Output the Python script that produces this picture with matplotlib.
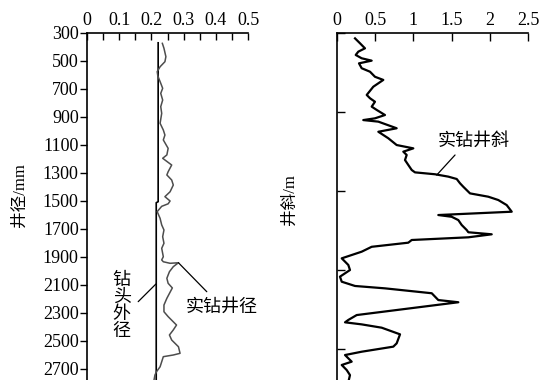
import matplotlib.pyplot as plt

plt.rcParams['font.family'] = ['Liberation Serif', 'Noto Sans CJK SC']

# left panel: hole diameter vs depth
caliper_depth = [374, 409, 469, 505, 541, 576, 607, 659, 695, 731, 779, 826, 874, 945,
                 993, 1029, 1064, 1124, 1171, 1195, 1243, 1291, 1314, 1350, 1386, 1434,
                 1469, 1500, 1520, 1538, 1576, 1624, 1671, 1707, 1755, 1802, 1838, 1898,
                 1921, 1934, 1945, 1941, 1969, 2005, 2052, 2088, 2121, 2195, 2243, 2291,
                 2326, 2386, 2421, 2457, 2493, 2541, 2588, 2600, 2612, 2648, 2684, 2719,
                 2743, 2780]
caliper_value = [0.234, 0.239, 0.245, 0.242, 0.227, 0.218, 0.220, 0.229, 0.235, 0.229,
                 0.235, 0.229, 0.232, 0.227, 0.237, 0.242, 0.237, 0.252, 0.248, 0.235,
                 0.263, 0.252, 0.248, 0.263, 0.268, 0.258, 0.242, 0.258, 0.252, 0.232,
                 0.218, 0.227, 0.232, 0.239, 0.235, 0.239, 0.232, 0.237, 0.232, 0.237,
                 0.258, 0.284, 0.268, 0.256, 0.248, 0.252, 0.265, 0.248, 0.239, 0.239,
                 0.252, 0.278, 0.268, 0.256, 0.263, 0.284, 0.289, 0.268, 0.237, 0.232,
                 0.227, 0.216, 0.211, 0.208]
bit_depth = [370, 1505, 1512, 2790]
bit_value = [0.221, 0.221, 0.215, 0.215]

# right panel: hole deviation vs depth
dev_depth = [34, 65, 97, 118, 139, 160, 175, 192, 223, 245, 277, 297, 340, 392, 413,
             435, 466, 487, 519, 540, 551, 561, 603, 625, 666, 709, 730, 751, 772, 804,
             835, 867, 882, 894, 909, 924, 951, 973, 1015, 1036, 1057, 1089, 1131, 1152,
             1163, 1184, 1215, 1247, 1261, 1274, 1293, 1310, 1327, 1353, 1384, 1426,
             1468, 1500, 1542, 1574, 1601, 1616, 1647, 1690, 1704, 1785, 1816, 1831,
             1844, 1865, 1907, 1964, 1985, 2017, 2038, 2080, 2101, 2133, 2165, 2210]
dev_value = [0.236, 0.301, 0.366, 0.279, 0.245, 0.323, 0.454, 0.288, 0.323, 0.432,
             0.497, 0.606, 0.475, 0.389, 0.432, 0.497, 0.454, 0.520, 0.628, 0.497,
             0.344, 0.541, 0.781, 0.541, 0.671, 0.781, 0.999, 0.868, 0.912, 0.890,
             0.933, 0.978, 1.021, 1.283, 1.457, 1.567, 1.610, 1.653, 1.741, 1.980,
             2.111, 2.221, 2.287, 1.326, 1.501, 1.588, 1.632, 1.698, 1.719, 2.025,
             1.719, 0.978, 0.933, 0.454, 0.323, 0.062, 0.148, 0.170, 0.039, 0.062,
             0.236, 0.628, 1.240, 1.326, 1.588, 0.258, 0.148, 0.105, 0.323, 0.585,
             0.825, 0.781, 0.737, 0.323, 0.105, 0.192, 0.062, 0.127, 0.170, 0.148]

left_yticks = [300, 500, 700, 900, 1100, 1300, 1500, 1700, 1900, 2100, 2300, 2500, 2700]
left_xticks = [0, 0.1, 0.2, 0.3, 0.4, 0.5]
right_xticks = [0, 0.5, 1, 1.5, 2, 2.5]
right_yticks = [0, 500, 1000, 1500, 2000]

W, H = 557, 380
fig = plt.figure(figsize=(W / 100, H / 100), dpi=100)


def px_axes(x0, x1, y0, y1):
    return fig.add_axes([x0 / W, 1 - y1 / H, (x1 - x0) / W, (y1 - y0) / H])


# ---- left ----
ax1 = px_axes(87, 248, 33, 383)
ax1.plot(bit_value, bit_depth, color='black', lw=1.2)
ax1.plot(caliper_value, caliper_depth, color='#4d4d4d', lw=1.1)
ax1.set_xlim(0, 0.5)
ax1.set_ylim(2800, 300)
ax1.xaxis.tick_top()
ax1.set_xticks(left_xticks)
ax1.set_xticklabels(['0', '0.1', '0.2', '0.3', '0.4', '0.5'])
ax1.set_xticks([0.05, 0.15, 0.25, 0.35, 0.45], minor=True)
ax1.set_yticks(left_yticks)
ax1.tick_params(axis='x', which='both', direction='in', length=5, width=1, pad=3, labelsize=13)
ax1.tick_params(axis='y', direction='out', length=5, width=1, pad=1, labelsize=13)
for s in ['right', 'bottom']:
    ax1.spines[s].set_visible(False)
for s in ['top', 'left']:
    ax1.spines[s].set_linewidth(1.2)

ax1.annotate('', xy=(0.284, 1941), xytext=(0.372, 2148),
             arrowprops=dict(arrowstyle='-', lw=0.9, color='black', shrinkA=0, shrinkB=0))
ax1.text(0.419, 2257, '实钻井径', fontsize=13, ha='center', va='center')
ax1.annotate('', xy=(0.214, 2093), xytext=(0.159, 2219),
             arrowprops=dict(arrowstyle='-', lw=0.9, color='black', shrinkA=0, shrinkB=0))
ax1.text(0.108, 2250, '钻\n头\n外\n径', fontsize=13, ha='center', va='center', linespacing=1.0)

# ---- right ----
ax2 = px_axes(337, 528, 33, 383)
ax2.plot(dev_value, dev_depth, color='black', lw=1.6)
ax2.set_xlim(0, 2.5)
ax2.set_ylim(2215, 0)
ax2.xaxis.tick_top()
ax2.set_xticks(right_xticks)
ax2.set_xticklabels(['0', '0.5', '1', '1.5', '2', '2.5'])
ax2.set_yticks(right_yticks)
ax2.set_yticklabels([])
ax2.tick_params(axis='x', direction='in', length=6, width=1, pad=3, labelsize=13)
ax2.tick_params(axis='y', direction='in', length=6, width=1)
for s in ['right', 'bottom']:
    ax2.spines[s].set_visible(False)
for s in ['top', 'left']:
    ax2.spines[s].set_linewidth(1.2)

ax2.annotate('', xy=(1.545, 772), xytext=(1.305, 899),
             arrowprops=dict(arrowstyle='-', lw=0.9, color='black', shrinkA=0, shrinkB=0))
ax2.text(1.787, 684, '实钻井斜', fontsize=13, ha='center', va='center')

fig.text(20 / W, 1 - 195 / H, '井径/mm', rotation=90, fontsize=12, ha='center', va='center')
fig.text(290 / W, 1 - 200 / H, '井斜/m', rotation=90, fontsize=12, ha='center', va='center')

fig.savefig('out.png', dpi=100)
